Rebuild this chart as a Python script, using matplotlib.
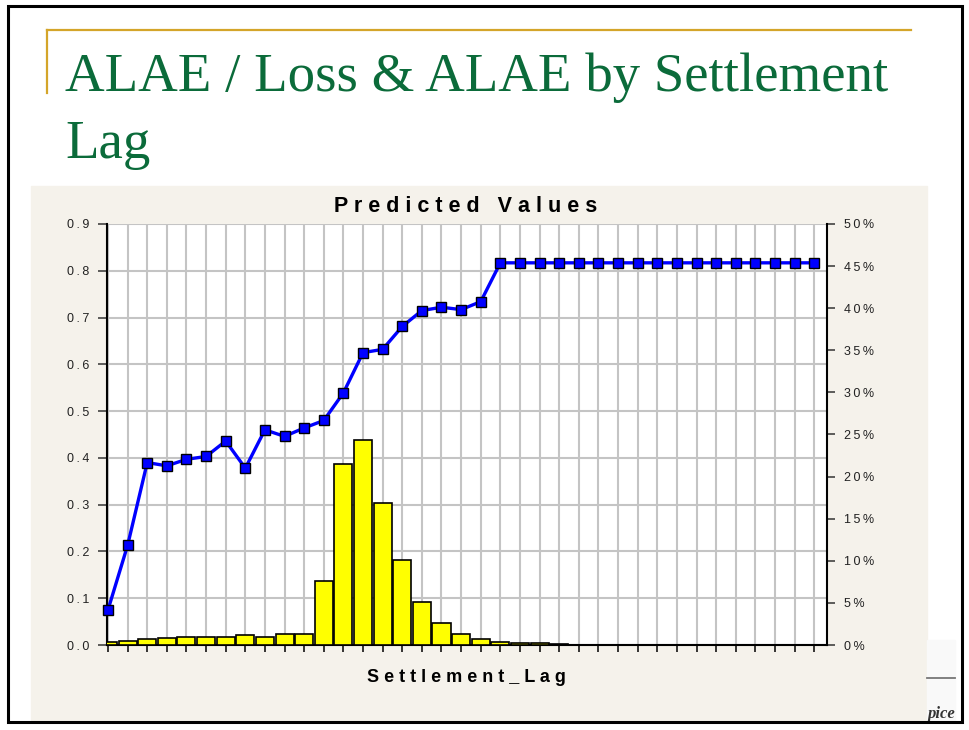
import numpy as np
import matplotlib
matplotlib.use('Agg')
from matplotlib import pyplot as plt
from matplotlib.ticker import FuncFormatter
from matplotlib.patches import Rectangle
from matplotlib.lines import Line2D

# settlement lag categories (no labels shown on the axis)
lags = np.arange(37)

# ALAE / Loss & ALAE predicted ratio (left axis)
alae_ratio = [0.075, 0.213, 0.390, 0.383, 0.397, 0.403, 0.436, 0.378, 0.460,
              0.446, 0.464, 0.480, 0.539, 0.625, 0.632, 0.681, 0.715, 0.722,
              0.717, 0.734, 0.817, 0.817, 0.817, 0.817, 0.817, 0.817, 0.817,
              0.817, 0.817, 0.817, 0.817, 0.817, 0.817, 0.817, 0.817, 0.817,
              0.817]

# share of claims by lag, in percent (right axis)
claim_share = [0.32, 0.51, 0.68, 0.83, 0.99, 0.99, 0.99, 1.15, 0.99, 1.27,
               1.27, 7.6, 21.5, 24.4, 16.9, 10.1, 5.15, 2.65, 1.27, 0.68,
               0.32, 0.2, 0.2, 0.08, 0.05, 0.05, 0.05, 0.05, 0.05, 0.05,
               0.05, 0.05, 0.05, 0.05, 0.05, 0.05, 0.05]

left_ticks = [0.0, 0.1, 0.2, 0.3, 0.4, 0.5, 0.6, 0.7, 0.8, 0.9]
right_ticks = [0, 5, 10, 15, 20, 25, 30, 35, 40, 45, 50]

W, H = 969, 730
fig = plt.figure(figsize=(W / 100, H / 100), dpi=100)
fig.patch.set_facecolor('white')
TICK_FONT = ['Liberation Sans', 'DejaVu Sans']


def spaced(s, sep=' '):
    return sep.join(s)


# slide decorations (drawn under the axes)
fig.patches.append(Rectangle((31 / W, 1 - 721 / H), (927 - 31) / W, (721 - 186) / H,
                             transform=fig.transFigure, color='#f5f2eb', zorder=-2))
fig.patches.append(Rectangle((927 / W, 1 - 721 / H), (955 - 927) / W, (721 - 640) / H,
                             transform=fig.transFigure, color='#f9f9f9', zorder=-2))
fig.lines.append(Line2D([46.5 / W, 911 / W], [1 - 29.5 / H, 1 - 29.5 / H],
                        transform=fig.transFigure, color='#d4a52a', lw=1.6))
fig.lines.append(Line2D([46.5 / W, 46.5 / W], [1 - 29.5 / H, 1 - 93 / H],
                        transform=fig.transFigure, color='#d4a52a', lw=1.6))
fig.lines.append(Line2D([927 / W, 955 / W], [1 - 678 / H, 1 - 678 / H],
                        transform=fig.transFigure, color='#777777', lw=1.3))
fig.patches.append(Rectangle((7.5 / W, 1 - 721.5 / H), (961.5 - 7.5) / W, (721.5 - 6) / H,
                             transform=fig.transFigure, fill=False, ec='black',
                             lw=2.2, zorder=10))

fig.text(65 / W, 1 - 91 / H, 'ALAE / Loss & ALAE by Settlement',
         family='Liberation Serif', fontsize=39.5, color='#0b6b3a', va='baseline')
fig.text(65 / W, 1 - 158 / H, 'Lag',
         family='Liberation Serif', fontsize=39.5, color='#0b6b3a', va='baseline')
fig.text(955 / W, 1 - 714 / H, 'pice', family='Liberation Serif', fontsize=12,
         style='italic', weight='bold', color='#333333', ha='right', va='center')

# main axes: left scale with grid
pos = [107 / W, 85 / H, 720 / W, 421 / H]
ax = fig.add_axes(pos)
ax.set_facecolor('white')
ax.set_xlim(-0.05, 36.65)
ax.set_ylim(0, 0.9)
ax.set_xticks(lags)
ax.set_xticklabels([])
ax.set_yticks(left_ticks)
ax.yaxis.set_major_formatter(FuncFormatter(lambda v, p: spaced(f'{v:.1f}', '\u2009')))
ax.grid(True, color='#c4c4c4', lw=1.5)
ax.set_axisbelow(True)
ax.spines['top'].set_visible(False)
ax.spines['right'].set_visible(False)
for s in ['left', 'bottom']:
    ax.spines[s].set_linewidth(1.5)
ax.tick_params(axis='y', length=6.5, width=1.1, pad=6, labelsize=9,
               labelcolor='#222222', color='#333333')
ax.tick_params(axis='x', length=5, width=1.1, color='black')
for lab in ax.get_yticklabels():
    lab.set_family(TICK_FONT)

# bars on right percent scale
axb = ax.twinx()
axb.set_ylim(0, 50)
axb.set_yticks(right_ticks)
axb.yaxis.set_major_formatter(FuncFormatter(lambda v, p: spaced(f'{v:.0f}%', '\u2009')))
axb.bar(lags, claim_share, width=0.92, color='#ffff00', edgecolor='black',
        linewidth=1.2, zorder=2)
for s in ['top', 'left', 'bottom']:
    axb.spines[s].set_visible(False)
axb.spines['right'].set_linewidth(1.5)
axb.tick_params(axis='y', length=6, width=1.1, pad=6, labelsize=9,
                labelcolor='#222222', color='#333333')
for lab in axb.get_yticklabels():
    lab.set_family(TICK_FONT)

# line on top, same scale as the left axis
axl = fig.add_axes(pos, sharex=ax, sharey=ax)
axl.patch.set_visible(False)
axl.axis('off')
axl.plot(lags, alae_ratio, color='#0000ff', lw=2.4, marker='s', markersize=7.5,
         markerfacecolor='#0000ff', markeredgecolor='black', markeredgewidth=1.0,
         clip_on=False)

fig.text(466 / W, 1 - 206 / H, spaced('Predicted') + '   ' + spaced('Values'),
         family='Liberation Sans', weight='bold', fontsize=15.5,
         ha='center', va='center', color='black')
fig.text(466 / W, 1 - 677 / H, spaced('Settlement_Lag'),
         family='Liberation Sans', weight='bold', fontsize=13,
         ha='center', va='center', color='black')

fig.savefig('out.png', dpi=100)
